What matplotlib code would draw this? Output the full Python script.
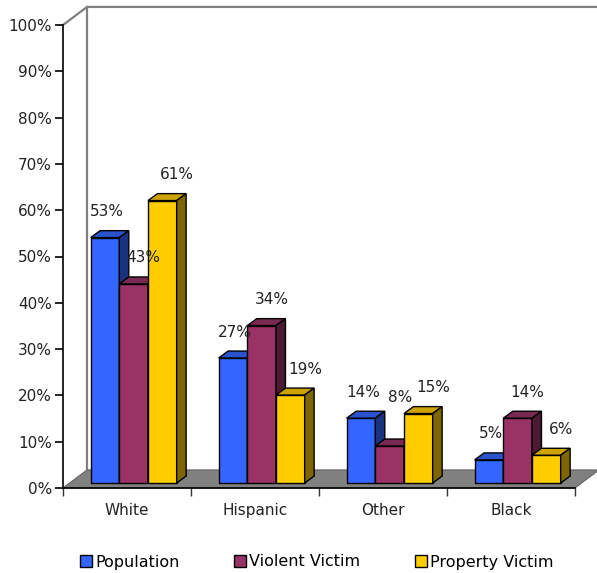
import numpy as np
import matplotlib
matplotlib.use('Agg')
import matplotlib.pyplot as plt
from matplotlib.patches import Polygon, Patch

categories = ['White', 'Hispanic', 'Other', 'Black']
series = ['Population', 'Violent Victim', 'Property Victim']
population = [53, 27, 14, 5]
violent = [43, 34, 8, 14]
property_victim = [61, 19, 15, 6]
values = [population, violent, property_victim]

front_col = ['#3366FF', '#993366', '#FFCC00']
top_col = ['#2952CC', '#7A2952', '#CCA300']
side_col = ['#1A3380', '#4D1A33', '#806600']

# pseudo 3d geometry (data units: x = categories, y = percent)
wall_dx, wall_dy = 0.1875, 3.9      # depth of the box
shift_dx, shift_dy = 0.052, 1.08    # bars front plane
bar_dx, bar_dy = 0.074, 1.5         # depth of a bar
bw = 0.224
fs = 11

fig = plt.figure(figsize=(5.97, 5.73), dpi=100)
ax = fig.add_axes([63/597, 85/573, 512/597, 463/573])
ax.set_xlim(0, 4)
ax.set_ylim(0, 100)
ax.patch.set_visible(False)
for s in ['top', 'right']:
    ax.spines[s].set_visible(False)
ax.spines['left'].set_linewidth(1.2)
ax.spines['bottom'].set_linewidth(1.2)
ax.spines['left'].set_zorder(20)
ax.spines['bottom'].set_zorder(20)

# back wall + floor
gray = '#808080'
ax.plot([0, wall_dx, 4.2], [100, 100 + wall_dy, 100 + wall_dy], color=gray, lw=1.6, clip_on=False, zorder=1)
ax.plot([wall_dx, wall_dx], [wall_dy, 100 + wall_dy], color=gray, lw=1.6, clip_on=False, zorder=1)
floor = Polygon([(0, 0), (4, 0), (4 + wall_dx, wall_dy), (wall_dx, wall_dy)],
                closed=True, facecolor=gray, edgecolor='#666666', lw=0.8, clip_on=False, zorder=2)
ax.add_patch(floor)

# bars, drawn left to right
k = 0
for i in range(len(categories)):
    for j in range(len(series)):
        v = values[j][i]
        x0 = i + 0.5 + shift_dx + (j - 1.5) * bw
        z = 3 + k * 0.01
        ax.bar(x0, v, width=bw, bottom=shift_dy, align='edge', color=front_col[j],
               edgecolor='black', lw=1.0, zorder=z, clip_on=False)
        t = shift_dy + v
        ax.add_patch(Polygon([(x0, t), (x0 + bw, t), (x0 + bw + bar_dx, t + bar_dy), (x0 + bar_dx, t + bar_dy)],
                             closed=True, facecolor=top_col[j], edgecolor='black', lw=1.0, zorder=z, clip_on=False))
        ax.add_patch(Polygon([(x0 + bw, shift_dy), (x0 + bw + bar_dx, shift_dy + bar_dy),
                              (x0 + bw + bar_dx, t + bar_dy), (x0 + bw, t)],
                             closed=True, facecolor=side_col[j], edgecolor='black', lw=1.0, zorder=z, clip_on=False))
        k += 1

# value labels
lab_dx = [0.016, 0.078, 0.117]
for i in range(len(categories)):
    for j in range(len(series)):
        v = values[j][i]
        xc = i + 0.5 + shift_dx + (j - 1) * bw
        dy = 5.6
        if v < 10 and j == 1:
            dy = 10.4   # excel pushed this one up
        ax.text(xc + lab_dx[j], v + shift_dy + dy, '%d%%' % v, ha='center', va='center',
                fontsize=fs, color='#222222', zorder=30)

# axes ticks
ax.set_yticks(np.arange(0, 101, 10))
ax.set_yticklabels(['%d%%' % t for t in range(0, 101, 10)], fontsize=fs, color='#222222')
ax.tick_params(axis='y', direction='out', length=6, width=1.2, pad=2)
ax.set_xticks(np.arange(0, 5))
ax.set_xticklabels([])
ax.tick_params(axis='x', which='major', direction='out', length=6, width=1.0, color='#333333')
ax.set_xticks(np.arange(4) + 0.5, minor=True)
ax.set_xticklabels(categories, minor=True, fontsize=fs, color='#222222')
ax.tick_params(axis='x', which='minor', length=0, pad=11)

handles = [Patch(facecolor=front_col[j], edgecolor='black', lw=1.0) for j in range(3)]
fig.legend(handles, series, loc='center', bbox_to_anchor=(0.531, 11/573), ncol=3, frameon=False,
           fontsize=11.5, handlelength=0.75, handleheight=0.75, handletextpad=0.2, columnspacing=3.4)

fig.savefig('out.png', dpi=100)
